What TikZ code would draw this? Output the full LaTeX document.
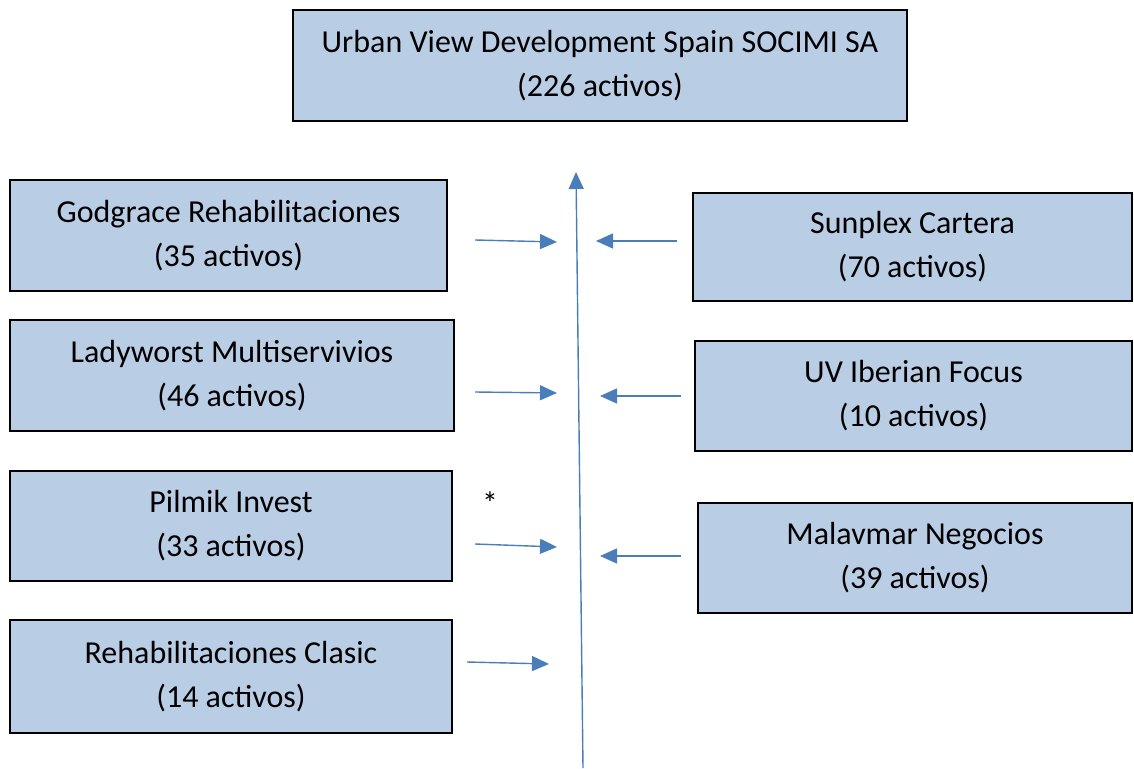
\documentclass[tikz,border=0pt]{standalone}
\usepackage{fontspec}
\setmainfont{Carlito}
\usetikzlibrary{arrows.meta}
\definecolor{boxfill}{RGB}{185,205,229}
\definecolor{arrowblue}{RGB}{74,126,187}
\tikzset{
  entity/.style={draw=black, line width=1.1pt, fill=boxfill, align=center,
    inner sep=0pt, font=\fontsize{16}{22}\selectfont},
  flow/.style={draw=arrowblue, line width=0.7pt, -{Triangle[length=8.5pt,width=7.5pt]}}
}
\begin{document}
\begin{tikzpicture}[x=0.5pt,y=-0.5pt]
				\useasboundingbox (0,0) rectangle (1134,769);
				% holding company
				\node[entity, minimum width=307pt, minimum height=55.5pt] (uvd) at (600,65.5) {Urban View Development Spain SOCIMI SA\\(226 activos)};
				% left column
				\node[entity, minimum width=218.5pt, minimum height=55.5pt] (god) at (228.5,235.5) {Godgrace Rehabilitaciones\\(35 activos)};
				\node[entity, minimum width=222pt, minimum height=55.5pt] (lady) at (232,375.5) {Ladyworst Multiservivios\\(46 activos)};
				\node[entity, minimum width=221pt, minimum height=55pt] (pil) at (231,526) {Pilmik Invest\\(33 activos)};
				\node[entity, minimum width=221pt, minimum height=56.5pt] (cla) at (231,676.5) {Rehabilitaciones Clasic\\(14 activos)};
				% right column
				\node[entity, minimum width=219.5pt, minimum height=54pt] (sun) at (912.5,247) {Sunplex Cartera\\(70 activos)};
				\node[entity, minimum width=218.5pt, minimum height=55pt] (uvi) at (913.5,396) {UV Iberian Focus\\(10 activos)};
				\node[entity, minimum width=217pt, minimum height=55pt] (mal) at (915,558) {Malavmar Negocios\\(39 activos)};
				\node (ast) at (490,503) {\fontsize{16}{18}\selectfont *};
				% trunk
				\coordinate (tb) at (583,768);
				\coordinate (tt) at (576,172);
				\draw[flow] (tb) -- (tt);
				% feeders
				\coordinate (god1) at (475,240);  \coordinate (god2) at (557,242);
				\coordinate (sun1) at (677,241);  \coordinate (sun2) at (596,241);
				\coordinate (lady1) at (475,392); \coordinate (lady2) at (557,393);
				\coordinate (uvi1) at (681,396);  \coordinate (uvi2) at (600,396);
				\coordinate (pil1) at (475,544);  \coordinate (pil2) at (557,547);
				\coordinate (mal1) at (681,556);  \coordinate (mal2) at (600,556);
				\coordinate (cla1) at (467,662);  \coordinate (cla2) at (549,664);
				\foreach \f in {god,sun,lady,uvi,pil,mal,cla}
					\draw[flow] (\f1) -- (\f2);
\end{tikzpicture}
\end{document}
